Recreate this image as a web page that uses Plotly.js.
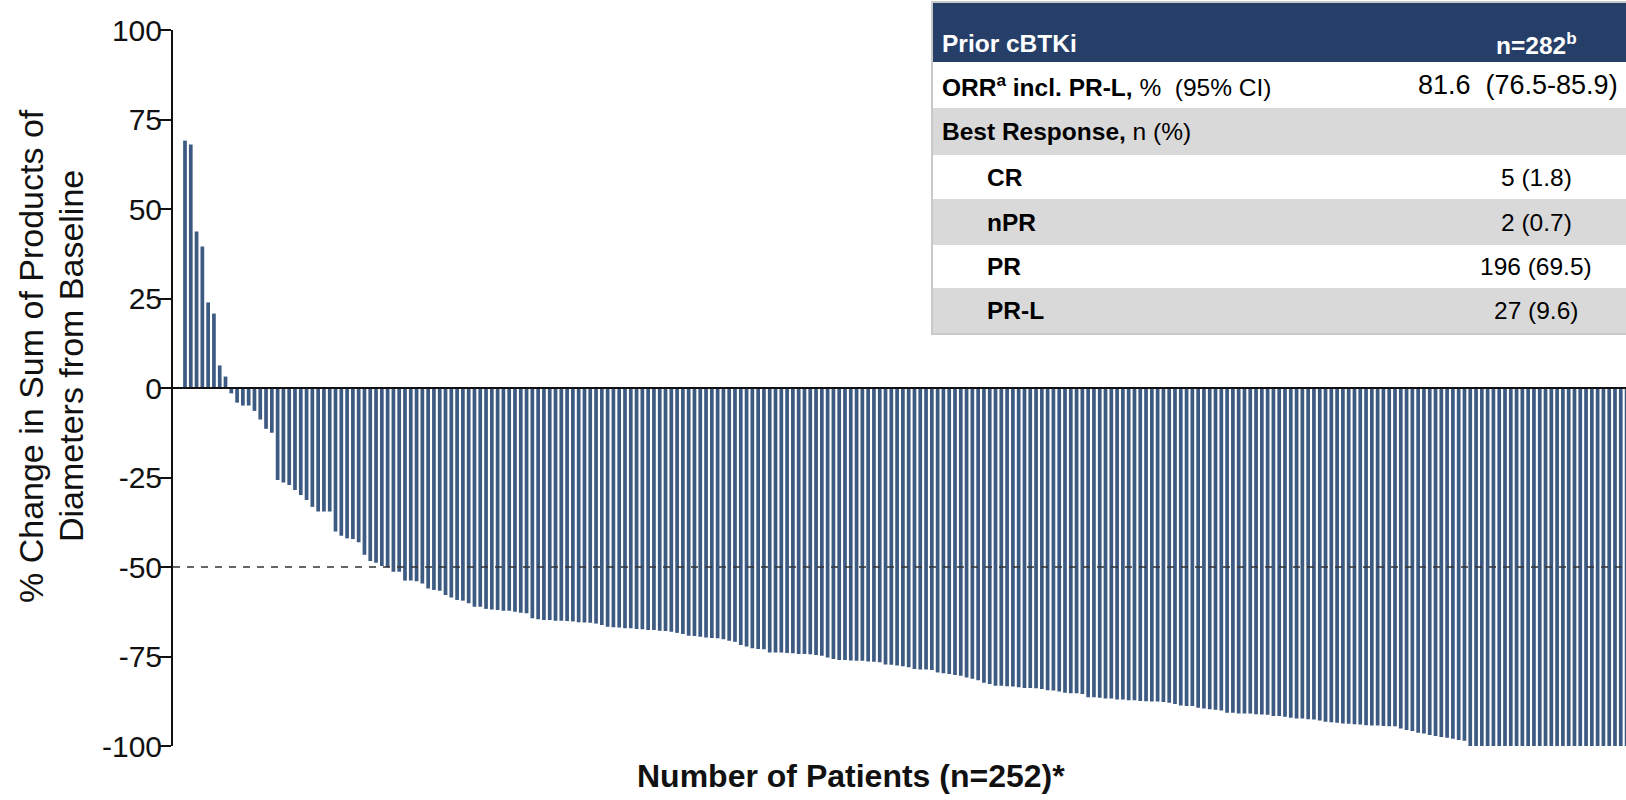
<!DOCTYPE html>
<html>
<head>
<meta charset="utf-8">
<script src="https://cdn.plot.ly/plotly-3.0.1.min.js"></script>
<style>
  html, body { margin: 0; padding: 0; overflow: hidden; background: #ffffff; }
  #chart { width: 1626px; height: 800px; }
</style>
</head>
<body>
<div id="chart"></div>
<script>
// ---- Data: % change from baseline, one value per patient (sorted waterfall) ----
const changeFromBaseline = [
  69.1, 68.0, 43.7, 39.5, 23.9, 20.8, 6.3, 3.2,
  -1.5, -4.1, -4.9, -4.9, -6.4, -8.8, -11.4, -12.5,
  -25.7, -26.4, -27.1, -28.5, -29.9, -31.3, -33.2, -34.5, -34.5, -34.5,
  -40.1, -41.3, -42.0, -42.2, -43.1, -46.6, -48.3, -48.8, -49.7, -50.1, -51.3, -51.3,
  -53.8, -53.8, -54.0, -54.6, -56.0, -56.4, -56.6, -57.8, -58.5, -59.2, -59.4, -60.1,
  -61.1, -61.1, -61.7, -61.9, -62.0, -62.2, -62.2, -62.5, -62.8, -62.9,
  -64.3, -64.6, -64.8, -64.8, -65.0, -65.0, -65.1, -65.2, -65.4, -65.5, -65.6, -65.8,
  -66.2, -66.7, -66.8, -66.9, -67.1, -67.1, -67.3, -67.4, -67.6, -67.6, -67.8, -67.9,
  -68.1, -68.4, -68.7, -69.2, -69.3, -69.5, -69.7, -69.8, -69.9, -70.2, -70.6, -70.9,
  -71.8, -72.2, -72.7, -72.9, -73.0, -73.9, -73.9, -73.9, -74.0, -74.1, -74.3, -74.3,
  -74.4, -74.6, -74.8, -75.3, -75.7, -76.0, -76.0, -76.1, -76.2, -76.2, -76.4, -76.5,
  -76.6, -77.2, -77.3, -77.5, -77.7,
  -78.0, -78.5, -78.6, -78.6, -78.8, -79.5, -79.7, -79.9, -80.2, -80.4,
  -80.9, -81.2, -81.6, -82.3, -82.7, -83.2, -83.2, -83.3, -83.4, -83.6,
  -83.8, -83.8, -83.9, -84.1, -84.4, -84.5, -84.8, -85.1, -85.3, -85.3,
  -85.5, -86.4, -86.4, -86.5, -86.7, -86.7, -87.0, -87.0, -87.2, -87.2,
  -87.4, -87.5, -87.6, -87.6, -87.7, -87.9, -88.3, -88.7, -88.8, -88.8,
  -89.3, -89.5, -89.7, -89.9, -90.1, -90.7, -90.7, -90.9, -90.9, -90.9,
  -91.1, -91.2, -91.3, -91.6, -91.6, -91.8, -92.1, -92.3, -92.3, -92.5,
  -92.6, -92.9, -93.2, -93.4, -93.5, -93.7, -93.8, -93.9, -94.0, -94.2,
  -94.3, -94.3, -94.4, -94.5, -94.5,
  -95.1, -95.5, -95.8, -96.3, -96.5, -96.9, -97.2, -97.5, -97.7, -98.0, -98.3, -98.5,
  -100, -100, -100, -100, -100, -100, -100, -100, -100, -100,
  -100, -100, -100, -100, -100, -100, -100, -100, -100, -100,
  -100, -100, -100, -100, -100, -100, -100, -100, -100, -100
];
const patientIndex = changeFromBaseline.map((v, i) => i + 1);

const yTickValues = [-100, -75, -50, -25, 0, 25, 50, 75, 100];
const yTickLabels = ['-100', '-75', '-50', '-25', '0', '25', '50', '75', '100'];
const responseThreshold = -50;

const yAxisTitleLines = ['% Change in Sum of Products of', 'Diameters from Baseline'];
const xAxisTitle = 'Number of Patients (n=252)*';

// Inset table
const tableHeader = ['Prior cBTKi', 'n=282<sup>b</sup>'];
const tableRowLabels = [
  '<b>ORR<sup>a</sup> incl. PR-L,</b> %\u00a0\u00a0(95% CI)',
  '<b>Best Response,</b> n (%)',
  '<b>CR</b>',
  '<b>nPR</b>',
  '<b>PR</b>',
  '<b>PR-L</b>'
];
const tableRowValues = ['81.6\u00a0\u00a0(76.5-85.9)', '', '5 (1.8)', '2 (0.7)', '196 (69.5)', '27 (9.6)'];
const tableRowIndent = [false, false, true, true, true, true];

// ---- Layout helpers (pixel -> paper) ----
const ML = 173, MT = 30, W = 1626, H = 800, MB = 54;
const PW = W - ML, PH = H - MT - MB;
const px = p => (p - ML) / PW;
const py = p => (H - MB - p) / PH;

const FONT = 'Liberation Sans, Arial, Helvetica, sans-serif';

const shapes = [];
const annotations = [];

// zero line and -50% threshold
shapes.push({type: 'line', xref: 'paper', yref: 'y', x0: 0, x1: 1, y0: 0, y1: 0,
  line: {color: '#111111', width: 2}, layer: 'above'});
shapes.push({type: 'line', xref: 'paper', yref: 'y', x0: 0, x1: 1, y0: responseThreshold, y1: responseThreshold,
  line: {color: '#333333', width: 1.6, dash: '7px,7px'}, layer: 'above'});

// table geometry
const tL = 933, tR = 1660;
const rowEdges = [3, 62, 108, 155, 199, 245, 288, 333];
const rowFills = ['#263f69', '#ffffff', '#d9d9d9', '#ffffff', '#d9d9d9', '#ffffff', '#d9d9d9'];
rowFills.forEach((c, i) => {
  shapes.push({type: 'rect', xref: 'paper', yref: 'paper', x0: px(tL), x1: px(tR),
    y0: py(rowEdges[i + 1]), y1: py(rowEdges[i]), fillcolor: c, line: {width: 0}, layer: 'above'});
});
shapes.push({type: 'rect', xref: 'paper', yref: 'paper', x0: px(tL - 1), x1: px(tR),
  y0: py(rowEdges[rowEdges.length - 1] + 1), y1: py(rowEdges[0] - 1),
  fillcolor: 'rgba(0,0,0,0)', line: {color: '#c9c9c9', width: 2}, layer: 'above'});

const valueCenter = 1536;
const TFS = 24.5;
// header
annotations.push({xref: 'paper', yref: 'paper', x: px(940), y: py(44), xanchor: 'left', yanchor: 'middle',
  text: '<b>' + tableHeader[0] + '</b>', showarrow: false, font: {family: FONT, size: TFS, color: '#ffffff'}});
annotations.push({xref: 'paper', yref: 'paper', x: px(valueCenter), y: py(44), xanchor: 'center', yanchor: 'middle',
  text: '<b>' + tableHeader[1] + '</b>', showarrow: false, font: {family: FONT, size: TFS, color: '#ffffff'}});
// rows
tableRowLabels.forEach((lab, i) => {
  const yc = (rowEdges[i + 1] + rowEdges[i + 2]) / 2;
  annotations.push({xref: 'paper', yref: 'paper', x: px(tableRowIndent[i] ? 985 : 940), y: py(yc),
    xanchor: 'left', yanchor: 'middle', text: lab, showarrow: false,
    font: {family: FONT, size: TFS, color: '#000000'}});
  if (tableRowValues[i]) {
    const first = i === 0;
    annotations.push({xref: 'paper', yref: 'paper', x: px(first ? 1416 : valueCenter), y: py(yc),
      xanchor: first ? 'left' : 'center', yanchor: 'middle', text: tableRowValues[i], showarrow: false,
      font: {family: FONT, size: first ? 27 : TFS, color: '#000000'}});
  }
});

// axis titles (two centred lines, rotated)
const yTitleX = [31, 71];
yAxisTitleLines.forEach((t, i) => {
  annotations.push({xref: 'paper', yref: 'paper', x: px(yTitleX[i]), y: py(356), xanchor: 'center', yanchor: 'middle',
    textangle: -90, text: t, showarrow: false, font: {family: FONT, size: 34, color: '#111111'}});
});
annotations.push({xref: 'paper', yref: 'paper', x: px(851), y: py(776), xanchor: 'center', yanchor: 'middle',
  text: '<b>' + xAxisTitle + '</b>', showarrow: false, font: {family: FONT, size: 32, color: '#111111'}});

const trace = {
  type: 'bar',
  x: patientIndex,
  y: changeFromBaseline,
  marker: {color: '#3d5a82', line: {width: 0}},
  hoverinfo: 'skip'
};

const layout = {
  width: W, height: H,
  margin: {l: ML, r: 0, t: MT, b: MB, pad: 0},
  paper_bgcolor: '#ffffff',
  plot_bgcolor: '#ffffff',
  bargap: 0.36,
  showlegend: false,
  xaxis: {range: [-1.07, 249.9], showline: false, showticklabels: false, ticks: '',
    showgrid: false, zeroline: false, fixedrange: true},
  yaxis: {range: [-100, 100], tickmode: 'array', tickvals: yTickValues, ticktext: yTickLabels,
    ticks: 'outside', ticklen: 12, tickwidth: 2, tickcolor: '#111111',
    showline: true, linewidth: 2, linecolor: '#111111', showgrid: false, zeroline: false,
    ticklabelstandoff: -9,
    tickfont: {family: FONT, size: 30, color: '#111111'}, fixedrange: true},
  shapes: shapes,
  annotations: annotations
};

Plotly.newPlot('chart', [trace], layout, {displayModeBar: false, staticPlot: true});
</script>
</body>
</html>
